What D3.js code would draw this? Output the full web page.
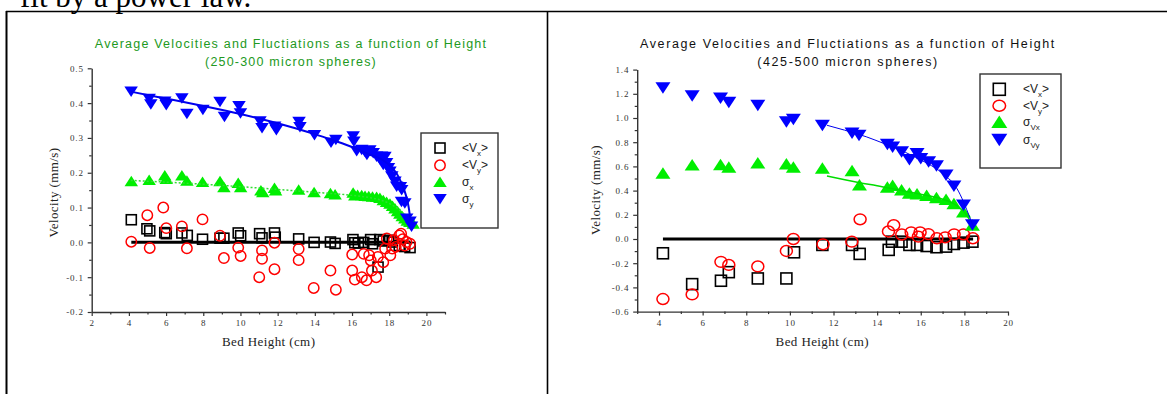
<!DOCTYPE html>
<html>
<head>
<meta charset="utf-8">
<script src="https://cdn.jsdelivr.net/npm/d3@7"></script>
<style>
  html, body { margin: 0; padding: 0; background: #fff; }
  svg { display: block; }
</style>
</head>
<body>
<svg id="chart" width="1167" height="394"></svg>
<script>
// ---------------- DATA ----------------
// Left chart: 250-300 micron spheres. Pairs are [bed height (cm), velocity (mm/s)]
const leftTitle = ["Average Velocities and Fluctiations as a function of Height", "(250-300 micron spheres)"];
const leftXTicks = [2, 4, 6, 8, 10, 12, 14, 16, 18, 20];
const leftYTicks = [-0.2, -0.1, 0.0, 0.1, 0.2, 0.3, 0.4, 0.5];

const leftVx = [[4.13,0.065],[4.97,0.039],[5.12,0.033],[5.93,0.028],[6.01,0.025],[6.85,0.027],[7.14,0.020],[7.96,0.009],[8.9,0.012],[9.11,0.012],[9.88,0.027],[10.01,0.019],[11.03,0.025],[11.16,0.013],[11.83,0.027],[11.87,0.015],[13.13,0.010],[13.96,0.000],[14.84,0.001],[15.09,-0.003],[16.05,0.008],[16.15,-0.001],[16.34,-0.002],[16.63,0.000],[17.0,0.008],[17.1,-0.004],[17.4,-0.071],[17.49,0.008],[17.68,0.004],[17.97,0.006],[18.16,0.001],[18.54,-0.009],[18.83,-0.012],[19.12,-0.015]];
const leftVy = [[4.13,0.002],[4.99,0.078],[5.12,-0.016],[5.85,0.100],[6.01,0.041],[6.85,0.046],[7.12,-0.017],[7.96,0.066],[8.9,0.019],[9.11,-0.045],[9.88,-0.015],[10.01,-0.039],[11.01,-0.100],[11.16,-0.023],[11.16,-0.047],[11.83,-0.001],[11.83,-0.077],[13.13,-0.019],[13.13,-0.051],[13.94,-0.131],[14.84,-0.081],[15.13,-0.136],[16.01,-0.035],[16.01,-0.081],[16.15,-0.107],[16.53,-0.100],[16.63,-0.033],[16.78,-0.109],[16.92,-0.037],[17.01,-0.052],[17.07,-0.081],[17.3,-0.100],[17.39,-0.042],[17.68,-0.057],[17.78,-0.018],[17.87,0.011],[18.06,-0.037],[18.16,-0.018],[18.25,0.006],[18.35,-0.013],[18.54,0.020],[18.64,0.025],[18.73,0.009],[18.83,-0.009],[18.93,0.001],[19.12,-0.004]];
const leftSx = [[4.13,0.176],[5.09,0.180],[5.93,0.193],[6.01,0.183],[6.85,0.193],[7.12,0.178],[7.96,0.174],[8.9,0.176],[9.11,0.159],[9.88,0.171],[10.01,0.159],[11.1,0.150],[11.2,0.145],[11.83,0.157],[11.89,0.150],[13.13,0.152],[13.96,0.145],[14.84,0.142],[15.09,0.138],[16.06,0.143],[16.15,0.135],[16.3,0.137],[16.52,0.136],[16.7,0.134],[16.9,0.133],[17.1,0.132],[17.32,0.131],[17.5,0.128],[17.68,0.122],[17.86,0.117],[18.04,0.112],[18.18,0.105],[18.31,0.098],[18.45,0.090],[18.57,0.083],[18.7,0.076],[18.84,0.069],[18.97,0.063],[19.11,0.059],[19.29,0.054]];
const leftSy = [[4.12,0.433],[5.09,0.412],[5.18,0.396],[5.93,0.404],[6.01,0.394],[6.85,0.413],[7.12,0.369],[7.98,0.380],[8.9,0.403],[9.14,0.360],[9.92,0.391],[10.0,0.370],[11.05,0.347],[11.16,0.328],[11.84,0.332],[11.93,0.322],[13.15,0.346],[13.2,0.331],[13.98,0.308],[14.87,0.286],[15.13,0.294],[16.06,0.304],[16.1,0.289],[16.25,0.262],[16.52,0.265],[16.69,0.260],[16.8,0.251],[16.96,0.264],[17.14,0.256],[17.32,0.246],[17.5,0.238],[17.59,0.246],[17.77,0.245],[17.68,0.222],[17.86,0.227],[17.96,0.213],[18.04,0.203],[18.14,0.189],[18.31,0.174],[18.4,0.160],[18.6,0.158],[18.67,0.150],[18.66,0.116],[18.84,0.112],[18.94,0.068],[19.12,0.059],[19.2,0.045]];
const leftSyFit = [[4.1,0.433],[6,0.413],[8,0.392],[10,0.369],[11,0.356],[12,0.342],[13,0.327],[14,0.311],[15,0.293],[16,0.274],[16.5,0.263],[17,0.251],[17.5,0.241],[18,0.222],[18.4,0.198],[18.7,0.165],[18.9,0.135],[19.05,0.1],[19.15,0.06]];
const leftSxFit = [[4.1,0.178],[6,0.173],[8,0.167],[10,0.160],[12,0.152],[14,0.144],[16,0.135],[17,0.128],[17.5,0.122],[18,0.112],[18.5,0.095],[18.9,0.075],[19.2,0.058]];
const leftZero = [[4.13,0],[19.12,0]];
const leftLegend = [["V","x"],["V","y"],["σ","x"],["σ","y"]];

// Right chart: 425-500 micron spheres
const rightTitle = ["Average Velocities and Fluctiations as a function of Height", "(425-500 micron spheres)"];
const rightXTicks = [4, 6, 8, 10, 12, 14, 16, 18, 20];
const rightYTicks = [-0.6, -0.4, -0.2, 0.0, 0.2, 0.4, 0.6, 0.8, 1.0, 1.2, 1.4];

const rightVx = [[4.18,-0.118],[5.52,-0.373],[6.84,-0.345],[7.2,-0.274],[8.53,-0.326],[9.84,-0.326],[10.19,-0.110],[11.49,-0.049],[12.85,-0.049],[13.2,-0.123],[14.53,-0.090],[14.68,-0.022],[15.12,-0.022],[15.48,-0.049],[15.83,-0.049],[16.27,-0.058],[16.72,-0.068],[17.16,-0.063],[17.52,-0.041],[17.96,-0.030],[18.37,-0.022]];
const rightVy = [[4.18,-0.496],[5.52,-0.458],[6.84,-0.189],[7.2,-0.214],[8.53,-0.227],[9.84,-0.099],[10.16,0.0],[11.52,-0.044],[12.84,-0.022],[13.22,0.163],[14.52,0.062],[14.76,0.114],[15.13,0.037],[15.56,0.055],[15.89,0.019],[15.97,0.055],[16.35,0.041],[16.74,0.006],[17.12,0.014],[17.53,0.039],[17.96,0.039],[18.39,0.006]];
const rightSx = [[4.18,0.545],[5.52,0.614],[6.82,0.616],[7.2,0.595],[8.53,0.630],[9.84,0.622],[10.16,0.595],[11.49,0.586],[12.85,0.567],[13.19,0.449],[14.47,0.430],[14.71,0.444],[15.12,0.408],[15.48,0.381],[15.83,0.375],[16.27,0.362],[16.72,0.342],[17.16,0.329],[17.52,0.293],[17.96,0.225],[18.37,0.115]];
const rightSy = [[4.18,1.247],[5.52,1.181],[6.82,1.164],[7.2,1.129],[8.53,1.104],[9.84,0.967],[10.16,0.988],[11.49,0.937],[12.85,0.874],[13.17,0.855],[14.47,0.781],[14.71,0.759],[15.12,0.718],[15.48,0.655],[15.83,0.704],[16.0,0.663],[16.36,0.636],[16.72,0.603],[17.16,0.526],[17.52,0.436],[17.96,0.279],[18.37,0.115]];
const rightSyFit = [[11.7,0.94],[12.5,0.90],[13.5,0.845],[14.3,0.79],[15,0.74],[15.6,0.69],[16.2,0.635],[16.8,0.57],[17.2,0.51],[17.5,0.46],[17.8,0.37],[18.0,0.29],[18.2,0.2],[18.42,0.10]];
const rightSxFit = [[11.7,0.52],[13.2,0.465],[14,0.44],[15,0.405],[16,0.37],[16.8,0.34],[17.3,0.31],[17.7,0.27],[18.0,0.22],[18.2,0.17],[18.4,0.10]];
const rightZero = [[4.18,0],[18.4,0]];
const rightLegend = [["V","x"],["V","y"],["σ","Vx"],["σ","Vy"]];

const topText = "fit by a power law.";

// ---------------- DRAWING ----------------
const svg = d3.select("#chart");
svg.append("rect").attr("width", 1167).attr("height", 394).attr("fill", "#fff");

svg.append("text").attr("x", 20).attr("y", 6.5)
  .attr("font-family", "'Liberation Serif', 'Times New Roman', serif")
  .attr("font-size", 31).attr("fill", "#000").text(topText);

// table borders
svg.append("line").attr("x1", 6).attr("x2", 1167).attr("y1", 11.5).attr("y2", 11.5).attr("stroke", "#000").attr("stroke-width", 1.6);
svg.append("line").attr("x1", 6.5).attr("x2", 6.5).attr("y1", 11).attr("y2", 394).attr("stroke", "#000").attr("stroke-width", 2);
svg.append("line").attr("x1", 547.5).attr("x2", 547.5).attr("y1", 11).attr("y2", 394).attr("stroke", "#000").attr("stroke-width", 1.6);

const SERIF = "'Liberation Serif', 'Times New Roman', serif";
const SANS = "'Liberation Sans', Arial, sans-serif";
const fmt = v => { const s = Math.abs(v) < 1e-9 ? "0.0" : v.toFixed(1); return s; };

function triPath(cx, cy, w, h, up) {
  if (up) return `M${cx},${cy - h/2}L${cx + w/2},${cy + h/2}L${cx - w/2},${cy + h/2}Z`;
  return `M${cx},${cy + h/2}L${cx + w/2},${cy - h/2}L${cx - w/2},${cy - h/2}Z`;
}

function drawChart(c) {
  const g = svg.append("g");
  const x = d3.scaleLinear().domain(c.xDomain).range(c.xRange);
  const y = d3.scaleLinear().domain(c.yDomain).range(c.yRange);

  // title
  c.title.forEach((t, i) => {
    g.append("text").attr("x", c.titleX).attr("y", c.titleY[i])
      .attr("text-anchor", "middle").attr("font-family", SANS).attr("font-size", 12.5)
      .attr("letter-spacing", c.titleLS).attr("fill", c.titleColor).text(t);
  });

  // minor ticks
  const xMinor = d3.range(c.xDomain[0], c.xDomain[1] + 0.001, 1).filter(v => !c.xTicks.includes(v));
  const yMinor = d3.range(c.yDomain[0], c.yDomain[1] + 1e-6, c.yMinorStep)
    .map(v => +v.toFixed(3)).filter(v => !c.yTicks.some(t => Math.abs(t - v) < 1e-6));

  const axX = g.append("g").attr("transform", `translate(0,${c.yRange[0]})`)
    .call(d3.axisBottom(x).tickValues(c.xTicks).tickSize(4).tickSizeOuter(0).tickPadding(4).tickFormat(d3.format("d")));
  g.append("g").attr("transform", `translate(0,${c.yRange[0]})`)
    .call(d3.axisBottom(x).tickValues(xMinor).tickSize(2.5).tickSizeOuter(0).tickFormat(""))
    .select(".domain").remove();
  const axY = g.append("g").attr("transform", `translate(${c.xRange[0]},0)`)
    .call(d3.axisLeft(y).tickValues(c.yTicks).tickSize(4).tickSizeOuter(0).tickPadding(4).tickFormat(fmt));
  g.append("g").attr("transform", `translate(${c.xRange[0]},0)`)
    .call(d3.axisLeft(y).tickValues(yMinor).tickSize(2.5).tickSizeOuter(0).tickFormat(""))
    .select(".domain").remove();

  g.selectAll(".domain").attr("stroke", "#333").attr("stroke-width", 1.4);
  g.selectAll(".tick line").attr("stroke", "#333").attr("stroke-width", 1.2);
  g.selectAll(".tick text").attr("font-family", SERIF).attr("font-size", 9)
    .attr("letter-spacing", 0.8).attr("fill", "#333");

  // axis labels
  g.append("text").attr("transform", `translate(${c.yLabelX},${c.yLabelY}) rotate(-90)`)
    .attr("dy", "0.35em").attr("text-anchor", "middle").attr("font-family", SERIF)
    .attr("font-size", 13).attr("letter-spacing", 0.4).attr("fill", "#222").text("Velocity (mm/s)");
  g.append("text").attr("x", c.xLabelX).attr("y", 346).attr("text-anchor", "middle")
    .attr("font-family", SERIF).attr("font-size", 13).attr("letter-spacing", 0.4)
    .attr("fill", "#222").text("Bed Height (cm)");

  const line = d3.line().x(d => x(d[0])).y(d => y(d[1])).curve(d3.curveMonotoneX);

  // markers
  const m = c.marker;
  g.append("g").selectAll("rect").data(c.vx).join("rect")
    .attr("x", d => x(d[0]) - m.sq/2).attr("y", d => y(d[1]) - m.sq/2)
    .attr("width", m.sq).attr("height", m.sq).attr("fill", "none")
    .attr("stroke", "#000").attr("stroke-width", 1.6);

  g.append("path").datum(c.zero).attr("d", line).attr("fill", "none")
    .attr("stroke", "#000").attr("stroke-width", 3);

  g.append("g").selectAll("ellipse").data(c.vy).join("ellipse")
    .attr("cx", d => x(d[0])).attr("cy", d => y(d[1]))
    .attr("rx", m.crx).attr("ry", m.cry).attr("fill", "none")
    .attr("stroke", "#f00").attr("stroke-width", 1.5);

  g.append("g").selectAll("path").data(c.sx).join("path")
    .attr("d", d => triPath(x(d[0]), y(d[1]), m.tw, m.th, true)).attr("fill", "#00ee00");

  g.append("path").datum(c.sxFit).attr("d", line).attr("fill", "none")
    .attr("stroke", c.sxFitColor).attr("stroke-width", c.sxFitWidth)
    .attr("stroke-dasharray", c.sxFitDash);

  g.append("g").selectAll("path").data(c.sy).join("path")
    .attr("d", d => triPath(x(d[0]), y(d[1]), m.tw, m.th, false)).attr("fill", "#0000ff");

  g.append("path").datum(c.syFit).attr("d", line).attr("fill", "none")
    .attr("stroke", "#0000ee").attr("stroke-width", c.syFitWidth);

  // legend
  const L = c.legend;
  g.append("rect").attr("x", L.x).attr("y", L.y).attr("width", L.w).attr("height", L.h)
    .attr("fill", "#fff").attr("stroke", "#333").attr("stroke-width", 1.4);
  c.legendItems.forEach((item, i) => {
    const cy = L.rows[i];
    const sx = L.symX;
    if (i === 0) {
      g.append("rect").attr("x", sx - L.sq/2).attr("y", cy - L.sq/2).attr("width", L.sq).attr("height", L.sq)
        .attr("fill", "none").attr("stroke", "#000").attr("stroke-width", 1.6);
    } else if (i === 1) {
      g.append("ellipse").attr("cx", sx).attr("cy", cy).attr("rx", L.crx).attr("ry", L.cry)
        .attr("fill", "none").attr("stroke", "#f00").attr("stroke-width", 1.5);
    } else if (i === 2) {
      g.append("path").attr("d", triPath(sx, cy, L.tw, L.th, true)).attr("fill", "#00ee00");
    } else {
      g.append("path").attr("d", triPath(sx, cy, L.tw, L.th, false)).attr("fill", "#0000ff");
    }
    const t = g.append("text").attr("x", L.textX).attr("y", cy + 4)
      .attr("font-family", SANS).attr("font-size", 12).attr("fill", "#222");
    if (item[0] === "V") {
      t.append("tspan").text("<V");
      t.append("tspan").attr("font-size", 8).attr("dy", 4).text(item[1]);
      t.append("tspan").attr("dy", -4).text(">");
    } else {
      t.append("tspan").text("σ");
      t.append("tspan").attr("font-size", 8).attr("dy", 4).text(item[1]);
    }
  });
}

drawChart({
  xDomain: [2, 21], xRange: [91.7, 445],
  yDomain: [-0.2, 0.5], yRange: [312, 68.3], yMinorStep: 0.05,
  xTicks: leftXTicks, yTicks: leftYTicks,
  title: leftTitle, titleX: 291, titleY: [47.5, 65.5], titleLS: 1.2, titleColor: "#229922",
  yLabelX: 53, yLabelY: 192.5, xLabelX: 268.7,
  vx: leftVx, vy: leftVy, sx: leftSx, sy: leftSy, sxFit: leftSxFit, syFit: leftSyFit, zero: leftZero,
  sxFitColor: "#33dd33", sxFitWidth: 1.5, sxFitDash: "2,2", syFitWidth: 2,
  marker: { sq: 10, crx: 5.2, cry: 5.2, tw: 13.5, th: 10.5 },
  legend: { x: 421, y: 133, w: 77, h: 95, rows: [148, 165.3, 181.7, 199.3], symX: 440, textX: 462,
            sq: 10, crx: 5.2, cry: 5.2, tw: 13.5, th: 10.5 },
  legendItems: leftLegend
});

drawChart({
  xDomain: [3, 20], xRange: [637.2, 1008],
  yDomain: [-0.6, 1.4], yRange: [311.6, 69.6], yMinorStep: 0.1,
  xTicks: rightXTicks, yTicks: rightYTicks,
  title: rightTitle, titleX: 848, titleY: [47.5, 65.5], titleLS: 1.6, titleColor: "#111",
  yLabelX: 595.5, yLabelY: 190, xLabelX: 822.3,
  vx: rightVx, vy: rightVy, sx: rightSx, sy: rightSy, sxFit: rightSxFit, syFit: rightSyFit, zero: rightZero,
  sxFitColor: "#00dd00", sxFitWidth: 1.5, sxFitDash: null, syFitWidth: 1,
  marker: { sq: 11, crx: 6, cry: 5.4, tw: 15, th: 11.5 },
  legend: { x: 980, y: 74, w: 81, h: 94, rows: [89.3, 105.7, 121.7, 140], symX: 999.3, textX: 1023,
            sq: 12, crx: 6.3, cry: 5.5, tw: 16, th: 12.5 },
  legendItems: rightLegend
});
</script>
</body>
</html>
